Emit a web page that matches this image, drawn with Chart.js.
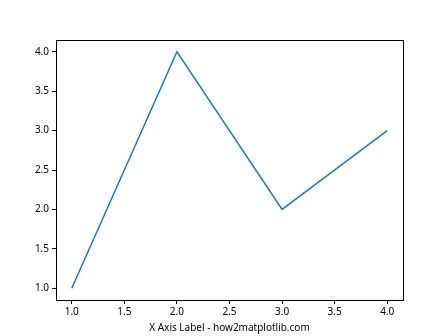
<!DOCTYPE html>
<html>
<head>
<meta charset="utf-8">
<script src="https://cdn.jsdelivr.net/npm/chart.js@4/dist/chart.umd.min.js"></script>
<style>
  html, body { margin: 0; padding: 0; background: #fff; }
  #wrap { width: 448px; height: 336px; }
</style>
</head>
<body>
<div id="wrap"><canvas id="chart" width="448" height="336"></canvas></div>
<script>
// data
const xValues = [1, 2, 3, 4];
const yValues = [1, 4, 2, 3];
const xTicks = [1.0, 1.5, 2.0, 2.5, 3.0, 3.5, 4.0];
const yTicks = [1.0, 1.5, 2.0, 2.5, 3.0, 3.5, 4.0];
const xLabel = "X Axis Label - how2matplotlib.com";

const font = { family: "'Noto Sans', 'Open Sans', sans-serif", size: 10 };

// black frame round the plot area, like matplotlib spines
const frame = {
    id: 'frame',
    afterDraw(chart) {
        const { ctx, chartArea: a } = chart;
        ctx.save();
        ctx.strokeStyle = '#000';
        ctx.lineWidth = 1;
        ctx.strokeRect(Math.round(a.left) + 0.5, Math.round(a.top) + 0.5,
            Math.round(a.right - a.left), Math.round(a.bottom - a.top));
        ctx.restore();
    }
};

const tickGrid = {
    drawOnChartArea: false,
    drawTicks: true,
    tickLength: 4,
    color: '#000'
};

new Chart(document.getElementById('chart'), {
    type: 'line',
    data: {
        datasets: [{
            data: xValues.map((x, i) => ({ x: x, y: yValues[i] })),
            borderColor: '#1f77b4',
            borderWidth: 1.5,
            pointRadius: 0,
            fill: false,
            tension: 0
        }]
    },
    options: {
        responsive: false,
        animation: false,
        layout: { padding: { top: 40, right: 45, left: 0, bottom: 2 } },
        plugins: {
            legend: { display: false },
            tooltip: { enabled: false }
        },
        scales: {
            x: {
                type: 'linear',
                min: 0.85,
                max: 4.15,
                grid: tickGrid,
                border: { display: false },
                afterBuildTicks: s => { s.ticks = xTicks.map(v => ({ value: v })); },
                ticks: {
                    color: '#000',
                    font: font,
                    padding: 2,
                    maxRotation: 0,
                    callback: v => v.toFixed(1)
                },
                title: {
                    display: true,
                    text: xLabel,
                    color: '#000',
                    font: font,
                    padding: { top: 2, bottom: 0 }
                }
            },
            y: {
                type: 'linear',
                min: 0.85,
                max: 4.15,
                grid: tickGrid,
                border: { display: false },
                afterBuildTicks: s => { s.ticks = yTicks.map(v => ({ value: v })); },
                afterFit: s => { s.width = 56; },
                ticks: {
                    color: '#000',
                    font: font,
                    padding: 3,
                    callback: v => v.toFixed(1)
                }
            }
        }
    },
    plugins: [frame]
});
</script>
</body>
</html>
